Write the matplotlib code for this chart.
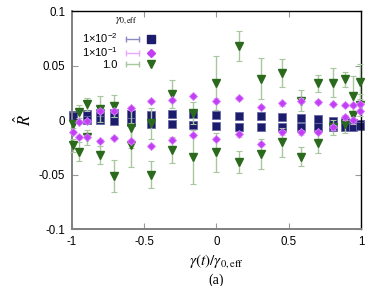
import matplotlib
matplotlib.use("Agg")
import matplotlib.pyplot as plt
import numpy as np
from matplotlib.lines import Line2D
from matplotlib.legend_handler import HandlerLine2D, HandlerTuple

plt.rcParams['font.family'] = ['Liberation Sans', 'DejaVu Sans']
plt.rcParams['mathtext.fontset'] = 'custom'
plt.rcParams['mathtext.rm'] = 'Liberation Sans'
plt.rcParams['mathtext.it'] = 'Liberation Sans:italic'
plt.rcParams['axes.unicode_minus'] = False

# data
sq_x = [-0.995, -0.894, -0.806, -0.709, -0.592, -0.455, -0.31, -0.165, 0.0,
        0.154, 0.306, 0.452, 0.586, 0.702, 0.808, 0.887, 0.947, 0.993]
sq_up = [0.0046, 0.0055, 0.0063, 0.0067, 0.0058, 0.0049, 0.0052, 0.0052, 0.0043,
         0.0040, 0.0034, 0.0028, 0.0015, 0.0006, -0.0006, -0.0015, -0.0030, -0.0035]
sq_lo = [0.0040, 0.0000, 0.0000, -0.0008, -0.0021, -0.0034, -0.0037, -0.0043, -0.0055,
         -0.0064, -0.0067, -0.0064, -0.0060, -0.0067, -0.0060, -0.0067, -0.0060, -0.0055]
sq_err = 0.0008

pt_x = [-0.995, -0.95, -0.894, -0.806, -0.709, -0.592, -0.455, -0.31, -0.165, 0.0,
        0.154, 0.306, 0.452, 0.586, 0.702, 0.808, 0.887, 0.947, 0.993]
di_up = [-0.0107, -0.0016, -0.0010, 0.0083, 0.0083, 0.0108, 0.0175, 0.0184, 0.0220, 0.0178,
         0.0200, 0.0117, 0.0153, 0.0178, 0.0168, 0.0147, 0.0138, 0.0138, 0.0150]
di_lo = [np.nan, -0.0154, -0.0157, -0.0193, -0.0163, -0.0193, -0.0236, -0.0184, -0.0138, -0.0175,
         -0.0132, -0.0220, -0.0113, -0.0113, -0.0107, -0.0067, 0.0025, 0.0000, 0.0085]
di_err = 0.002

gr_up = [-0.0037, 0.0076, 0.0145, 0.0105, 0.0127, -0.0077, -0.0030, 0.0236, 0.0061, 0.0340,
         0.0680, 0.0380, 0.0430, 0.0178, 0.0337, 0.0343, 0.0374, 0.0220, 0.0353]
gr_up_err = [0.004, 0.006, 0.006, 0.012, 0.010, 0.018, 0.014, 0.013, 0.010, 0.025,
             0.014, 0.019, 0.013, 0.0095, 0.008, 0.013, 0.007, 0.018, 0.016]
gr_lo = [-0.0230, -0.0290, -0.0160, -0.0322, -0.0512, -0.0230, -0.0500, -0.0276, -0.0340, -0.0295,
         -0.0383, -0.0313, -0.0205, -0.0335, -0.0208, -0.0067, -0.0037, 0.0046, 0.0138]
gr_lo_err = [0.006, 0.009, 0.007, 0.008, 0.015, 0.020, 0.0125, 0.012, 0.025, 0.018,
             0.010, 0.014, 0.013, 0.009, 0.009, 0.007, 0.008, 0.008, 0.010]

labels = ['1×10$^{-2}$', '1×10$^{-1}$', '1.0']
colors = ['#1c1c6c', '#c23ef2', '#2b6a1c']
bar_colors = ['#8c8cc4', '#e6aaff', '#a9c79f']

fig = plt.figure(figsize=(3.82, 2.86), dpi=100)
ax = fig.add_axes([0.1885, 0.199, 0.7565, 0.7625])

kw = dict(ls='none', capsize=2, elinewidth=1, capthick=0.8, clip_on=False)
ax.errorbar(pt_x, gr_up, yerr=gr_up_err, marker='v', ms=6, color=colors[2],
            ecolor=bar_colors[2], zorder=3, **kw)
ax.errorbar(pt_x, gr_lo, yerr=gr_lo_err, marker='v', ms=6, color=colors[2],
            ecolor=bar_colors[2], zorder=3, **kw)
for yv in (di_up, di_lo):
    ax.errorbar(pt_x, yv, yerr=di_err, marker='D', ms=4.3, color=colors[1],
                mec='#d77cff', mew=0.6, ecolor=bar_colors[1], zorder=4, **kw)
for yv in (sq_up, sq_lo):
    ax.errorbar(sq_x, yv, yerr=sq_err, marker='s', ms=5.2, color=colors[0],
                mec='#6a6aa6', mew=0.6, ecolor=bar_colors[0], zorder=2, **kw)

ax.set_xlim(-1, 1)
ax.set_ylim(-0.1, 0.1)
ax.set_xticks([-1, -0.5, 0, 0.5, 1])
ax.set_xticklabels(['-1', '-0.5', '0', '0.5', '1'])
ax.set_yticks([-0.1, -0.05, 0, 0.05, 0.1])
ax.set_yticklabels(['-0.1', '-0.05', '0', '0.05', '0.1'])
ax.tick_params(direction='in', top=True, right=True, length=4, width=0.8,
               color='#999999', labelsize=8.3, pad=5)
for s in ('left', 'bottom'):
    ax.spines[s].set_color('#808080')
    ax.spines[s].set_linewidth(1.4)
for s in ('top', 'right'):
    ax.spines[s].set_color('black')
    ax.spines[s].set_linewidth(1.0)

ax.set_ylabel(r'$\hat{R}$', fontsize=12, math_fontfamily='stix', rotation=90)
ax.yaxis.set_label_coords(-0.13, 0.5)
fig.text(0.567, 1 - 261 / 286, r'$\gamma(t)/\gamma_{0,\mathrm{eff}}$', fontsize=11,
         math_fontfamily='stix', ha='center', va='center')
fig.text(0.567, 1 - 280 / 286, '(a)', fontsize=10, family='Liberation Serif',
         ha='center', va='center')

# legend: text left, error-bar sample right
handles = []
hmap = {}
for c, bc, m, ms in zip(colors, bar_colors, ['s', 'D', 'v'], [5.2, 4.3, 6]):
    cap = Line2D([], [], color=bc, lw=1, marker='|', ms=5, mew=1)
    mk = Line2D([], [], ls='none', marker=m, ms=ms, color=c)
    hmap[cap] = HandlerLine2D(numpoints=2, marker_pad=0)
    handles.append((cap, mk))
hmap[tuple] = HandlerTuple(ndivide=None)
leg = ax.legend(handles, labels, loc='upper left', bbox_to_anchor=(0.0, 0.955),
                frameon=False, markerfirst=False, numpoints=1, fontsize=8,
                handlelength=2.9, handletextpad=0.7, labelspacing=0.05,
                handler_map=hmap)
ax.text(0.148, 0.955, r'$\gamma_{0,\mathrm{eff}}$', transform=ax.transAxes,
        fontsize=8, math_fontfamily='stix', ha='left', va='center')

fig.savefig('out.png', dpi=100)
